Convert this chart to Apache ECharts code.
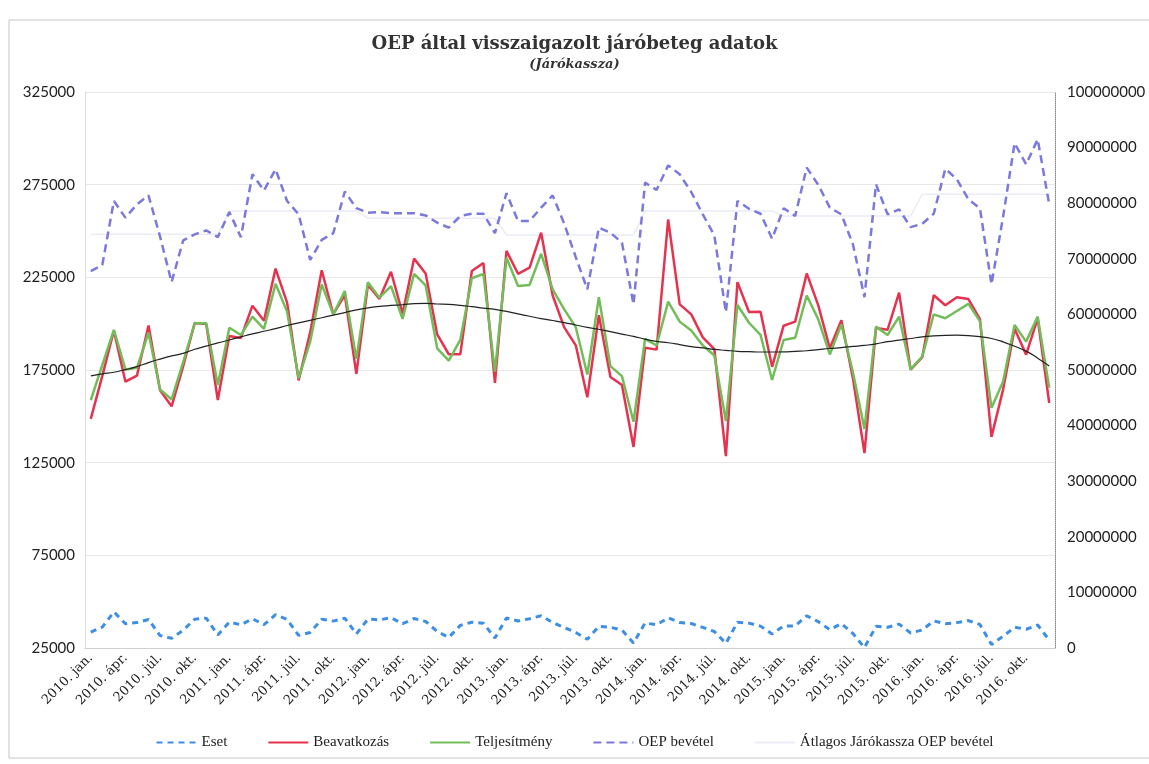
<!DOCTYPE html>
<html>
<head>
<meta charset="utf-8">
<script src="https://cdn.jsdelivr.net/npm/echarts@6/dist/echarts.min.js"></script>
<style>
html, body { margin: 0; padding: 0; background: #fff; }
#chart { width: 1149px; height: 764px; }
</style>
</head>
<body>
<div id="chart"></div>
<script>
var years = [2010, 2011, 2012, 2013, 2014, 2015, 2016];
var months = ['jan.', 'febr.', 'márc.', 'ápr.', 'máj.', 'jún.', 'júl.', 'aug.', 'szept.', 'okt.', 'nov.', 'dec.'];

// Eset (bal tengely)
var eset = [33600, 36300, 44500, 38100, 38700, 40400, 31700, 30200, 34600, 40500, 41100, 32000,
            39000, 37500, 40800, 37600, 43000, 40400, 31800, 33400, 40500, 39500, 41100, 32600,
            40600, 40200, 41300, 38100, 40900, 39300, 33900, 30700, 37200, 38900, 38400, 30400,
            41200, 39600, 40800, 42400, 38700, 36100, 33400, 29700, 36700, 36200, 34700, 27700,
            38500, 37500, 41300, 38700, 38200, 36100, 33900, 27500, 38900, 38400, 36800, 32600,
            36900, 36900, 42400, 39200, 34900, 38200, 32800, 25200, 36700, 36200, 37900, 33100,
            34700, 39600, 38100, 38700, 39800, 37700, 26900, 31300, 36200, 35100, 37400, 29300];

// Beavatkozás (bal tengely)
var beavatkozas = [148600, 171800, 196200, 168700, 172000, 199000, 164000, 155400, 177000, 200300, 199800, 158800,
                   193400, 192300, 209700, 201600, 229700, 211400, 169400, 195300, 228800, 205100, 215400, 172900,
                   220900, 213400, 228000, 205400, 235100, 227100, 194200, 183500, 183500, 228400, 232700, 168000,
                   239300, 226900, 230200, 249100, 215200, 198000, 188300, 160300, 204600, 171200, 166900, 133500,
                   187000, 186000, 256200, 210400, 205000, 192600, 186200, 128500, 222400, 206300, 206400, 176700,
                   198900, 201100, 227100, 209900, 186700, 201900, 170600, 130200, 197700, 196700, 216700, 175200,
                   181800, 215300, 209900, 214300, 213300, 202500, 138900, 164300, 197300, 183300, 202800, 157200];

// Teljesítmény (jobb tengely, millió)
var teljesitmeny = [44.6, 50.9, 57.2, 50.1, 50.4, 56.7, 46.5, 44.7, 51.4, 58.4, 58.4, 47.3,
                    57.6, 56.3, 59.6, 57.4, 65.5, 60.5, 48.5, 55.1, 65.4, 60.0, 64.2, 52.0,
                    65.8, 63.0, 65.1, 59.2, 67.3, 65.2, 53.9, 51.7, 55.4, 66.5, 67.3, 49.7,
                    70.2, 65.1, 65.3, 70.9, 64.5, 60.9, 57.7, 49.2, 63.1, 50.7, 48.9, 40.7,
                    55.6, 54.4, 62.3, 58.7, 57.1, 54.4, 52.6, 40.8, 61.7, 58.5, 56.3, 48.2,
                    55.4, 55.8, 63.4, 59.1, 52.8, 58.2, 49.6, 39.4, 57.8, 56.3, 59.6, 50.1,
                    52.4, 60.0, 59.3, 60.6, 61.9, 58.8, 43.2, 47.9, 58.1, 55.1, 59.6, 46.8];

// OEP bevétel (jobb tengely, millió Ft)
var oepBevetel = [67.8, 68.9, 80.4, 77.4, 79.8, 81.4, 74.0, 65.8, 73.3, 74.4, 75.1, 73.9,
                  78.4, 73.9, 85.2, 82.3, 86.1, 80.4, 78.0, 69.8, 73.4, 74.6, 82.1, 79.1,
                  78.3, 78.4, 78.2, 78.2, 78.2, 77.8, 76.5, 75.6, 77.7, 78.1, 78.1, 74.6,
                  81.8, 76.8, 76.8, 79.2, 81.4, 76.3, 70.3, 64.5, 75.6, 74.7, 72.9, 61.8,
                  83.7, 82.4, 86.8, 85.2, 82.0, 78.0, 74.2, 60.4, 80.4, 79.0, 78.1, 73.6,
                  79.1, 77.7, 86.4, 83.3, 79.2, 78.0, 72.6, 63.1, 83.4, 78.0, 78.9, 75.7,
                  76.3, 78.1, 86.2, 84.3, 80.7, 79.1, 65.4, 77.5, 90.8, 87.0, 91.5, 79.8];

// Átlagos Járókassza OEP bevétel, évente (millió Ft)
var atlagEves = [74.4, 78.6, 77.3, 74.3, 78.6, 77.7, 81.6];

// polinomiális trendvonal (bal tengely)
var trend = [171800, 172900, 173800, 175200, 176800, 179000, 180900, 182600, 184000, 186200, 187900, 189600,
             191200, 192900, 194500, 195900, 197300, 199000, 200400, 201800, 203200, 204600, 206000, 207400,
             208500, 209300, 209900, 210200, 210800, 210900, 210600, 210400, 209900, 209200, 208400, 207700,
             206600, 205300, 204000, 202700, 201700, 200600, 199300, 198000, 197000, 195700, 194400, 193100,
             191700, 190400, 189700, 188700, 187600, 186900, 186100, 185600, 185100, 184900, 184700, 184700,
             184800, 185100, 185400, 186000, 186600, 187100, 187700, 188300, 189100, 190300, 191100, 192000,
             192900, 193400, 193700, 193800, 193600, 193000, 192000, 190200, 187800, 185200, 181400, 177200];

var leftAxis = { min: 25000, max: 325000, step: 50000 };
var rightAxis = { min: 0, max: 100000000, step: 10000000 };

var categories = [];
years.forEach(function (y) {
    months.forEach(function (m) { categories.push(y + '. ' + m); });
});
var atlag = [];
atlagEves.forEach(function (v) {
    months.forEach(function () { atlag.push(v * 1e6); });
});
var toFt = function (v) { return Math.round(v * 1e6); };
var plain = function (v) { return String(v); };

var serif = '"Liberation Serif", "DejaVu Serif", serif';
var myChart = echarts.init(document.getElementById('chart'));

var option = {
    backgroundColor: '#ffffff',
    animation: false,
    title: {
        text: 'OEP által visszaigazolt járóbeteg adatok',
        subtext: '(Járókassza)',
        left: 'center',
        top: 30,
        itemGap: 5,
        textStyle: { fontFamily: '"DejaVu Serif", serif', fontWeight: 'bold', fontSize: 18, color: '#333' },
        subtextStyle: { fontFamily: '"DejaVu Serif", serif', fontStyle: 'italic', fontWeight: 'bold', fontSize: 13, color: '#333' }
    },
    legend: {
        data: ['Eset', 'Beavatkozás', 'Teljesítmény', 'OEP bevétel', 'Átlagos Járókassza OEP bevétel'],
        bottom: 9,
        left: 'center',
        itemWidth: 40,
        itemHeight: 4,
        itemGap: 40,
        itemStyle: { opacity: 0 },
        textStyle: { fontFamily: serif, fontSize: 15, color: '#222' }
    },
    grid: { left: 85, right: 94, top: 92, bottom: 116 },
    xAxis: {
        type: 'category',
        data: categories,
        boundaryGap: true,
        axisLine: { lineStyle: { color: '#cfcfcf' } },
        axisTick: { interval: 0, length: 5, lineStyle: { color: '#cfcfcf' } },
        axisLabel: {
            interval: 2,
            rotate: 45,
            fontFamily: '"DejaVu Serif", serif',
            fontSize: 13,
            color: '#222',
            margin: 8
        },
        splitLine: { show: false }
    },
    yAxis: [{
        type: 'value',
        min: leftAxis.min,
        max: leftAxis.max,
        interval: leftAxis.step,
        position: 'left',
        axisLine: { show: true, lineStyle: { color: '#dedede' } },
        axisTick: { show: false },
        axisLabel: { formatter: plain, fontFamily: 'Lato, sans-serif', fontSize: 15, color: '#222', margin: 10 },
        splitLine: { lineStyle: { color: '#e8e8e8' } }
    }, {
        type: 'value',
        min: rightAxis.min,
        max: rightAxis.max,
        interval: rightAxis.step,
        position: 'right',
        axisLine: { show: true, lineStyle: { color: '#8a8a8a', type: 'dotted' } },
        axisTick: { show: false },
        axisLabel: { formatter: plain, fontFamily: 'Lato, sans-serif', fontSize: 15, color: '#222', margin: 12 },
        splitLine: { show: false }
    }],
    graphic: [{
        type: 'rect',
        shape: { x: 9, y: 20, width: 1150, height: 738 },
        style: { fill: 'none', stroke: '#c4c4c4', lineWidth: 1 },
        silent: true
    }],
    series: [{
        name: 'Átlagos Járókassza OEP bevétel',
        type: 'line',
        yAxisIndex: 1,
        data: atlag,
        symbol: 'none',
        lineStyle: { color: '#ebebf8', width: 1.5 },
        itemStyle: { color: '#ebebf8' },
        z: 1
    }, {
        name: 'Eset',
        type: 'line',
        yAxisIndex: 0,
        data: eset,
        symbol: 'none',
        lineStyle: { color: '#3d8fe6', width: 3, type: [6, 5] },
        itemStyle: { color: '#3d8fe6' }
    }, {
        name: 'Beavatkozás',
        type: 'line',
        yAxisIndex: 0,
        data: beavatkozas,
        symbol: 'none',
        lineStyle: { color: '#e5334f', width: 2.5 },
        itemStyle: { color: '#e5334f' }
    }, {
        name: 'Teljesítmény',
        type: 'line',
        yAxisIndex: 1,
        data: teljesitmeny.map(toFt),
        symbol: 'none',
        lineStyle: { color: '#72bd5a', width: 2.5 },
        itemStyle: { color: '#72bd5a' }
    }, {
        name: 'OEP bevétel',
        type: 'line',
        yAxisIndex: 1,
        data: oepBevetel.map(toFt),
        symbol: 'none',
        lineStyle: { color: '#7b79dc', width: 2.5, type: [8, 5] },
        itemStyle: { color: '#7b79dc' }
    }, {
        name: 'Polinom. trend',
        type: 'line',
        yAxisIndex: 0,
        data: trend,
        symbol: 'none',
        smooth: true,
        lineStyle: { color: '#222222', width: 1.2 },
        itemStyle: { color: '#222222' }
    }]
};

myChart.setOption(option);
</script>
</body>
</html>
